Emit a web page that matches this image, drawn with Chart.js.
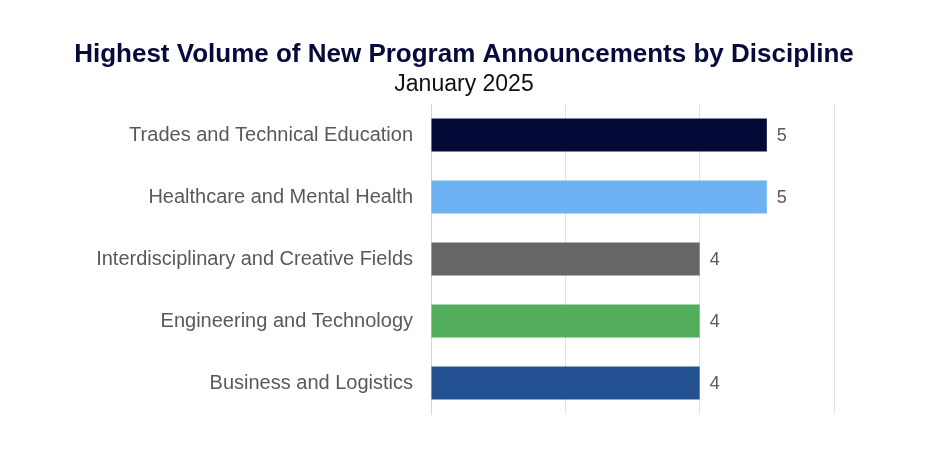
<!DOCTYPE html>
<html>
<head>
<meta charset="utf-8">
<script src="https://cdn.jsdelivr.net/npm/chart.js@4"></script>
<style>
  html, body { margin: 0; padding: 0; background: #fff; }
  #wrap { width: 936px; height: 460px; }
</style>
</head>
<body>
<div id="wrap"><canvas id="grafico"></canvas></div>
<script>
const titulo = 'Highest Volume of New Program Announcements by Discipline';
const subtitulo = 'January 2025';
const categorias = [
  'Trades and Technical Education',
  'Healthcare and Mental Health',
  'Interdisciplinary and Creative Fields',
  'Engineering and Technology',
  'Business and Logistics'
];
const valores = [5, 5, 4, 4, 4];
const cores = ['#040a38', '#6db2f2', '#666666', '#52ae5c', '#245192'];

const fonte = '"Liberation Sans", Arial, sans-serif';

// titulo e subtitulo centrados na figura toda
const cabecalho = {
  id: 'cabecalho',
  afterDraw(chart) {
    const ctx = chart.ctx;
    ctx.save();
    ctx.textAlign = 'center';
    ctx.textBaseline = 'middle';
    ctx.fillStyle = '#050a3a';
    ctx.font = 'bold 26px ' + fonte;
    ctx.fillText(titulo, 464, 55);
    ctx.fillStyle = '#111111';
    ctx.font = '23px ' + fonte;
    ctx.fillText(subtitulo, 464, 85);
    ctx.restore();
  }
};

// escreve o valor ao lado de cada barra
const rotulosValor = {
  id: 'rotulosValor',
  afterDatasetsDraw(chart) {
    const ctx = chart.ctx;
    const meta = chart.getDatasetMeta(0);
    ctx.save();
    ctx.font = '18px ' + fonte;
    ctx.fillStyle = '#595959';
    ctx.textAlign = 'left';
    ctx.textBaseline = 'middle';
    meta.data.forEach((barra, i) => {
      ctx.fillText(valores[i], barra.x + 10, barra.y + 1);
    });
    ctx.restore();
  }
};

const ctx = document.getElementById('grafico').getContext('2d');
const grafico = new Chart(ctx, {
  type: 'bar',
  data: {
    labels: categorias,
    datasets: [{
      data: valores,
      backgroundColor: cores,
      barPercentage: 0.53,
      categoryPercentage: 1
    }]
  },
  options: {
    indexAxis: 'y',
    responsive: true,
    maintainAspectRatio: false,
    animation: false,
    layout: { padding: { top: 104, right: 102, bottom: 46, left: 0 } },
    plugins: {
      legend: { display: false },
      tooltip: { enabled: false },
      title: { display: false }
    },
    scales: {
      x: {
        min: 0,
        max: 6,
        ticks: { display: false, stepSize: 2 },
        grid: {
          drawTicks: false,
          color: (c) => c.tick && c.tick.value === 0 ? 'rgba(0,0,0,0)' : '#e3e3e3'
        },
        border: { display: false }
      },
      y: {
        afterFit(scale) { scale.width = 431; },
        ticks: {
          color: '#595959',
          padding: 18,
          font: { family: fonte, size: 20 }
        },
        grid: { display: false, drawTicks: false },
        border: { display: true, color: '#c9d5f3' }
      }
    }
  },
  plugins: [rotulosValor, cabecalho]
});
</script>
</body>
</html>
